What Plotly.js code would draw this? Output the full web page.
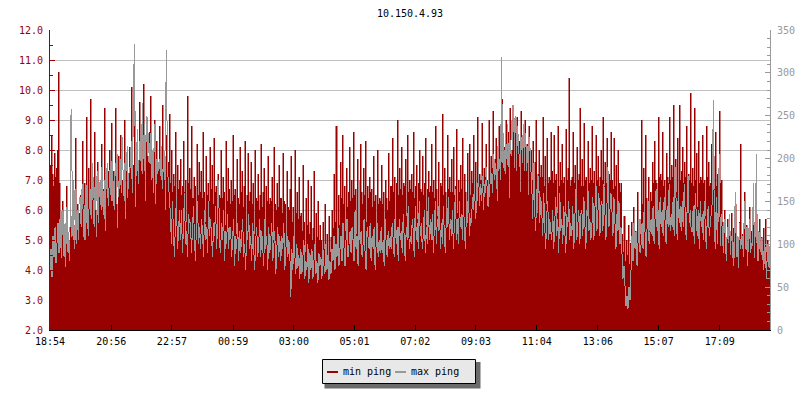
<!DOCTYPE html>
<html>
<head>
<meta charset="utf-8">
<script src="https://cdn.plot.ly/plotly-3.0.1.min.js"></script>
<style>
html,body{margin:0;padding:0;background:#fff}
#chart{width:800px;height:400px}
#chart .scatterlayer path{shape-rendering:crispEdges}
</style>
</head>
<body>
<div id="chart"></div>
<script>
// ---- data ----
var chartTitle = "10.150.4.93";
var tickMinutes = [0, 122, 243, 365, 486, 607, 728, 849, 970, 1092, 1213, 1335];
var tickLabels = ["18:54", "20:56", "22:57", "00:59", "03:00", "05:01", "07:02", "09:03", "11:04", "13:06", "15:07", "17:09"];
var sampleStepMinutes = 2;
var seriesNames = ["min ping", "max ping"];

// min ping (ms, left axis)
var minPing = [
7.5, 8.5, 7.2, 6.8, 7.9, 7.1, 7.4, 8.0, 10.6, 6.9,
5.2, 4.4, 6.3, 4.8, 5.5, 4.1, 6.8, 4.6, 5.0, 4.3,
5.8, 5.1, 7.0, 5.5, 4.7, 8.4, 5.6, 6.2, 5.0, 5.9,
6.5, 5.9, 8.3, 6.2, 6.9, 5.0, 9.1, 6.0, 7.4, 6.3,
9.7, 6.1, 7.1, 6.4, 8.6, 6.0, 5.1, 7.6, 6.2, 6.8,
6.4, 8.2, 6.1, 6.7, 9.4, 5.3, 7.0, 6.6, 7.3, 8.0,
6.9, 8.9, 6.3, 7.3, 6.5, 9.4, 6.2, 5.4, 7.8, 6.7,
8.5, 6.6, 7.0, 6.9, 9.0, 5.7, 7.6, 6.4, 7.2, 8.1,
7.4, 10.1, 7.0, 7.5, 9.3, 6.1, 8.0, 7.3, 7.1, 9.6,
7.8, 8.4, 7.2, 10.2, 7.3, 6.3, 9.1, 7.8, 7.6, 8.6,
9.8, 7.0, 7.7, 7.4, 9.0, 6.2, 8.3, 7.2, 7.5, 8.8,
7.4, 7.0, 9.5, 7.3, 7.8, 6.0, 8.5, 7.1, 7.6, 9.2,
6.9, 8.0, 6.6, 7.2, 6.8, 8.6, 5.7, 7.5, 6.7, 7.0,
7.7, 6.5, 6.8, 8.3, 6.6, 7.0, 5.6, 9.8, 6.9, 7.4,
6.7, 8.8, 6.4, 7.1, 6.8, 5.5, 8.2, 6.5, 7.6, 6.6,
7.3, 6.4, 8.6, 6.6, 5.6, 7.8, 6.5, 6.9, 6.3, 8.1,
6.7, 7.5, 6.2, 8.4, 6.6, 6.8, 5.4, 7.2, 6.5, 6.4,
8.0, 6.4, 7.1, 6.6, 5.5, 8.3, 6.3, 7.4, 6.7, 6.2,
7.0, 6.3, 8.5, 6.5, 6.7, 5.2, 7.7, 6.4, 6.2, 8.1,
6.6, 7.3, 6.1, 6.8, 8.3, 5.4, 6.5, 7.9, 6.3, 6.6,
7.6, 6.2, 6.9, 5.2, 8.0, 6.4, 6.3, 7.2, 6.0, 6.5,
8.2, 6.1, 6.6, 7.4, 5.1, 6.8, 6.3, 7.8, 6.2, 6.4,
6.3, 7.1, 5.0, 8.1, 6.2, 6.0, 6.9, 6.1, 7.5, 6.4,
6.4, 5.9, 7.9, 6.3, 6.2, 4.9, 7.3, 6.1, 6.0, 6.7,
7.8, 5.6, 6.1, 4.8, 8.0, 5.9, 6.6, 5.7, 7.1, 5.8,
5.9, 5.3, 7.5, 5.6, 4.6, 6.4, 5.5, 7.0, 5.2, 5.6,
6.8, 5.0, 5.4, 7.3, 4.5, 5.9, 5.1, 6.3, 5.0, 5.5,
5.0, 4.4, 5.6, 4.7, 6.2, 4.5, 5.2, 4.3, 5.8, 4.6,
5.1, 6.0, 5.4, 7.2, 5.6, 8.8, 4.8, 6.5, 5.5, 7.6,
6.4, 8.5, 6.2, 6.8, 5.3, 7.4, 6.1, 6.6, 8.1, 6.3,
7.0, 6.4, 8.6, 6.5, 6.7, 5.2, 7.7, 6.6, 6.3, 8.2,
6.6, 6.2, 7.4, 6.5, 8.3, 5.6, 6.8, 6.4, 7.1, 6.6,
6.7, 6.1, 7.8, 6.3, 6.5, 5.0, 8.0, 6.2, 6.4, 6.3,
7.5, 6.2, 6.6, 5.1, 7.0, 6.4, 6.0, 7.9, 6.3, 6.8,
6.8, 8.4, 6.6, 7.1, 5.6, 6.9, 9.0, 6.5, 7.4, 6.7,
8.1, 6.5, 6.9, 6.8, 7.7, 5.8, 8.5, 6.6, 7.0, 6.7,
7.2, 6.6, 8.6, 6.4, 6.8, 7.5, 5.7, 6.9, 8.0, 6.7,
6.6, 7.8, 6.5, 6.9, 8.4, 5.5, 6.7, 7.3, 6.6, 6.8,
8.2, 6.6, 7.0, 6.4, 8.8, 6.7, 5.8, 7.6, 6.5, 6.9,
6.8, 9.2, 6.5, 7.4, 6.6, 5.6, 8.5, 6.7, 7.1, 6.6,
7.7, 6.6, 8.1, 6.5, 6.8, 8.7, 5.9, 7.0, 6.6, 7.5,
6.7, 8.4, 6.4, 7.2, 6.6, 5.7, 7.9, 6.8, 8.2, 6.5,
7.3, 6.9, 8.5, 7.0, 7.6, 5.9, 9.1, 6.9, 7.2, 7.0,
8.9, 6.8, 7.4, 7.1, 8.2, 7.0, 6.1, 9.0, 6.9, 7.8,
7.4, 9.3, 7.2, 7.7, 8.4, 6.3, 7.5, 8.8, 7.3, 7.6,
9.7, 7.4, 8.1, 7.2, 9.0, 7.5, 8.6, 6.4, 9.4, 7.8,
8.0, 9.5, 7.4, 8.7, 7.3, 9.1, 7.9, 8.3, 6.6, 9.3,
7.6, 8.5, 7.3, 9.0, 7.7, 8.2, 6.5, 8.8, 7.4, 8.0,
7.0, 8.3, 6.9, 7.6, 9.0, 5.9, 7.2, 8.0, 7.1, 7.5,
7.1, 9.1, 6.8, 7.8, 6.2, 8.4, 6.9, 7.1, 7.0, 8.6,
7.3, 6.9, 8.5, 7.0, 7.2, 5.9, 8.8, 6.8, 7.6, 7.0,
8.2, 6.9, 7.1, 5.8, 8.7, 7.0, 7.4, 10.4, 6.8, 7.0,
7.1, 8.6, 6.9, 7.5, 6.0, 8.1, 7.0, 7.2, 9.4, 6.8,
7.7, 6.8, 8.9, 7.0, 7.1, 5.8, 8.3, 6.9, 7.4, 7.0,
8.8, 6.9, 7.3, 6.1, 8.5, 7.0, 7.8, 6.8, 7.1, 8.0,
7.0, 9.1, 6.8, 7.6, 6.9, 8.4, 5.9, 7.2, 7.0, 8.6,
7.0, 6.7, 8.4, 6.8, 7.5, 5.6, 8.0, 6.9, 6.6, 6.9,
5.2, 4.6, 5.8, 4.3, 5.0, 4.5, 5.5, 4.2, 4.9, 5.6,
4.7, 6.1, 5.0, 5.3, 4.8, 6.6, 5.4, 5.7, 5.2, 9.0,
6.2, 7.4, 5.8, 8.5, 6.4, 6.1, 7.1, 5.3, 6.6, 6.3,
7.6, 6.9, 8.3, 7.0, 6.9, 5.8, 9.1, 7.1, 7.2, 7.0,
8.6, 6.8, 7.0, 6.0, 7.9, 7.1, 6.9, 9.1, 7.0, 7.5,
7.1, 9.5, 6.9, 7.7, 6.6, 8.4, 6.2, 9.5, 7.0, 7.3,
8.1, 6.9, 7.6, 7.1, 8.8, 5.9, 7.2, 7.0, 9.9, 6.9,
7.4, 6.8, 9.4, 7.0, 7.9, 6.1, 8.3, 6.9, 7.1, 7.0,
8.5, 6.9, 7.0, 5.8, 8.8, 7.1, 7.6, 6.8, 6.9, 8.2,
6.9, 7.8, 6.7, 8.6, 6.8, 7.2, 5.6, 9.3, 6.9, 7.0,
5.6, 4.8, 6.0, 5.1, 4.6, 5.7, 4.9, 5.3, 4.5, 5.9,
4.7, 5.4, 4.4, 6.2, 4.8, 5.1, 4.3, 5.6, 8.2, 4.9,
5.2, 4.5, 6.6, 4.7, 5.5, 4.3, 5.0, 6.1, 4.6, 5.3,
4.8, 5.6, 4.4, 6.0, 4.9, 5.2, 4.3, 5.7, 4.6, 5.1,
4.5, 5.4, 4.2, 5.7, 4.6, 5.0, 4.1, 4.8, 3.8, 3.6
];

// max ping (ms, right axis)
var maxPing = [
70, 95, 62, 110, 85, 120, 78, 100, 125, 90,
130, 95, 140, 110, 85, 125, 100, 145, 90, 115,
120, 258, 150, 105, 130, 165, 100, 140, 115, 150,
155, 120, 170, 135, 105, 150, 125, 175, 110, 145,
165, 130, 195, 145, 120, 175, 150, 185, 125, 160,
175, 140, 200, 155, 130, 185, 165, 195, 145, 170,
190, 150, 210, 165, 140, 195, 175, 205, 155, 180,
200, 160, 225, 175, 150, 210, 185, 215, 165, 190,
190, 220, 160, 250, 334, 200, 180, 235, 170, 210,
225, 185, 265, 200, 240, 180, 250, 205, 230, 195,
230, 175, 210, 160, 240, 190, 170, 215, 185, 200,
180, 215, 165, 200, 175, 230, 327, 190, 170, 160,
135, 100, 150, 115, 85, 125, 155, 95, 110, 140,
105, 140, 90, 120, 160, 100, 115, 85, 135, 125,
125, 90, 110, 145, 105, 80, 130, 150, 100, 120,
95, 130, 115, 85, 140, 105, 120, 90, 150, 110,
130, 100, 85, 125, 110, 145, 95, 120, 175, 100,
90, 125, 105, 140, 80, 115, 100, 135, 95, 120,
120, 85, 105, 130, 75, 110, 95, 125, 80, 115,
90, 115, 130, 85, 100, 70, 120, 105, 135, 95,
110, 80, 125, 95, 70, 105, 120, 85, 100, 130,
85, 115, 100, 75, 130, 95, 110, 70, 120, 90,
105, 125, 80, 100, 115, 65, 95, 120, 85, 110,
80, 110, 95, 125, 70, 100, 115, 85, 105, 90,
38, 95, 70, 110, 80, 65, 100, 72, 88, 60,
95, 65, 85, 105, 60, 80, 70, 100, 55, 90,
70, 95, 60, 85, 100, 65, 80, 55, 90, 75,
85, 60, 95, 75, 65, 100, 70, 88, 58, 80,
65, 95, 80, 110, 70, 100, 85, 120, 75, 95,
110, 80, 125, 95, 75, 105, 130, 85, 100, 115,
90, 120, 105, 80, 140, 95, 110, 75, 175, 100,
115, 85, 100, 130, 90, 70, 120, 105, 95, 125,
80, 110, 95, 120, 70, 100, 125, 85, 105, 90,
120, 90, 105, 75, 130, 100, 85, 115, 95, 110,
95, 125, 110, 85, 140, 100, 120, 80, 130, 105,
115, 90, 135, 100, 80, 120, 105, 145, 95, 110,
100, 130, 115, 85, 145, 105, 125, 95, 150, 110,
125, 95, 110, 140, 90, 120, 100, 155, 105, 130,
105, 135, 90, 120, 150, 100, 130, 115, 160, 95,
125, 100, 145, 110, 90, 135, 120, 155, 105, 130,
110, 140, 95, 125, 165, 105, 130, 100, 150, 120,
135, 105, 155, 115, 95, 140, 125, 170, 110, 130,
125, 155, 140, 175, 130, 165, 150, 190, 145, 170,
150, 180, 140, 170, 160, 190, 145, 175, 155, 185,
180, 160, 205, 175, 195, 165, 215, 185, 200, 175,
318, 195, 230, 185, 215, 200, 240, 190, 225, 205,
245, 210, 262, 225, 250, 200, 238, 215, 190, 228,
220, 195, 240, 205, 230, 185, 215, 200, 225, 190,
175, 130, 195, 140, 115, 165, 150, 180, 125, 155,
140, 110, 160, 120, 95, 135, 150, 105, 130, 115,
105, 140, 95, 125, 155, 110, 130, 90, 160, 115,
130, 100, 145, 115, 90, 135, 120, 150, 105, 125,
110, 145, 95, 130, 165, 105, 125, 140, 100, 135,
140, 110, 155, 120, 95, 135, 170, 115, 130, 105,
120, 155, 105, 140, 175, 115, 135, 160, 110, 145,
150, 115, 170, 125, 105, 145, 190, 120, 135, 160,
140, 110, 155, 125, 95, 135, 115, 150, 100, 120,
95, 60, 75, 45, 28, 40, 25, 50, 35, 70,
110, 80, 125, 95, 115, 75, 105, 130, 90, 100,
125, 95, 140, 105, 85, 120, 150, 100, 115, 130,
110, 145, 100, 130, 165, 115, 140, 95, 155, 120,
140, 110, 155, 125, 100, 145, 120, 170, 115, 135,
120, 155, 110, 190, 130, 105, 160, 125, 145, 115,
150, 120, 170, 130, 105, 145, 180, 125, 140, 115,
115, 145, 100, 160, 130, 110, 140, 95, 150, 120,
135, 105, 150, 115, 95, 130, 145, 110, 125, 140,
150, 268, 120, 95, 155, 100, 140, 205, 98, 135,
115, 90, 130, 100, 80, 120, 105, 135, 95, 110,
100, 75, 120, 161, 85, 110, 72, 125, 95, 105,
110, 85, 150, 95, 120, 75, 105, 130, 90, 100,
105, 172, 85, 125, 205, 80, 115, 95, 130, 88,
95, 70, 110, 85, 60, 100, 75, 90, 55, 60
];

// ---- build ----
var xs = minPing.map(function (_, i) { return i * sampleStepMinutes; });
var FONT = "DejaVu Sans Mono, Liberation Mono, monospace";
var RED = "#990000", GRAY = "#999999";

// plot area in pixels: left 50, right 770, top 30, bottom 330
function px(x) { return (x - 50) / 720; }
function py(y) { return (330 - y) / 300; }

var traces = [
  { x: xs, y: minPing, name: seriesNames[0], type: "scatter", mode: "lines",
    line: { shape: "hv", color: RED, width: 0.5 }, fill: "tozeroy", fillcolor: RED,
    yaxis: "y", showlegend: false, hoverinfo: "skip" },
  { x: xs, y: maxPing, name: seriesNames[1], type: "scatter", mode: "lines",
    line: { shape: "linear", color: GRAY, width: 1 },
    yaxis: "y2", showlegend: false, hoverinfo: "skip" }
];

var layout = {
  width: 800, height: 400,
  margin: { l: 50, r: 30, t: 30, b: 70, pad: 0 },
  paper_bgcolor: "#ffffff", plot_bgcolor: "#ffffff",
  font: { family: FONT, size: 10, color: "#000" },
  title: { text: chartTitle, font: { family: FONT, size: 10, color: "#000" },
           x: 0.5, xref: "paper", xanchor: "center", y: 1 - 13 / 400, yref: "container", yanchor: "middle" },
  showlegend: false,
  xaxis: {
    range: [0, 1435], tickmode: "array", tickvals: tickMinutes, ticktext: tickLabels,
    ticks: "inside", ticklen: 5, tickcolor: "#000", tickwidth: 1,
    showline: true, linecolor: "#000", linewidth: 1,
    showgrid: false, zeroline: false,
    tickfont: { family: FONT, size: 10, color: "#000" }, ticklabelstandoff: 2
  },
  yaxis: {
    range: [2, 12], dtick: 1, tick0: 0, tickformat: ".1f",
    ticks: "inside", ticklen: 5, tickcolor: RED, tickwidth: 1,
    minor: { ticks: "inside", ticklen: 3, dtick: 0.5, tickcolor: RED, showgrid: false },
    showline: true, linecolor: RED, linewidth: 1,
    showgrid: true, gridcolor: "#c0c0c0", gridwidth: 1, zeroline: false,
    tickfont: { family: FONT, size: 10, color: RED }, ticklabelstandoff: 4
  },
  yaxis2: {
    overlaying: "y", side: "right",
    range: [0, 350], dtick: 50, tick0: 0,
    ticks: "inside", ticklen: 5, tickcolor: GRAY, tickwidth: 1,
    minor: { ticks: "inside", ticklen: 3, dtick: 10, tickcolor: GRAY, showgrid: false },
    showline: true, linecolor: GRAY, linewidth: 1,
    showgrid: false, zeroline: false,
    tickfont: { family: FONT, size: 10, color: GRAY }, ticklabelstandoff: 4
  },
  shapes: [
    { type: "rect", xref: "paper", yref: "paper", x0: px(324.5), x1: px(480.5), y0: py(388.5), y1: py(362),
      fillcolor: "#6b6b6b", line: { width: 0 } },
    { type: "rect", xref: "paper", yref: "paper", x0: px(322.5), x1: px(475.5), y0: py(383.5), y1: py(359.5),
      fillcolor: "#e8e8e8", line: { color: "#000", width: 1 } },
    { type: "line", xref: "paper", yref: "paper", x0: px(327), x1: px(338), y0: py(372), y1: py(372),
      line: { color: RED, width: 2 } },
    { type: "line", xref: "paper", yref: "paper", x0: px(395), x1: px(406), y0: py(372), y1: py(372),
      line: { color: GRAY, width: 2 } }
  ],
  annotations: [
    { text: seriesNames[0], xref: "paper", yref: "paper", x: px(341), y: py(371), xanchor: "left", yanchor: "middle",
      showarrow: false, font: { family: FONT, size: 10, color: "#000" } },
    { text: seriesNames[1], xref: "paper", yref: "paper", x: px(409), y: py(371), xanchor: "left", yanchor: "middle",
      showarrow: false, font: { family: FONT, size: 10, color: "#000" } }
  ]
};

Plotly.newPlot("chart", traces, layout, { staticPlot: true, displayModeBar: false });
</script>
</body>
</html>
